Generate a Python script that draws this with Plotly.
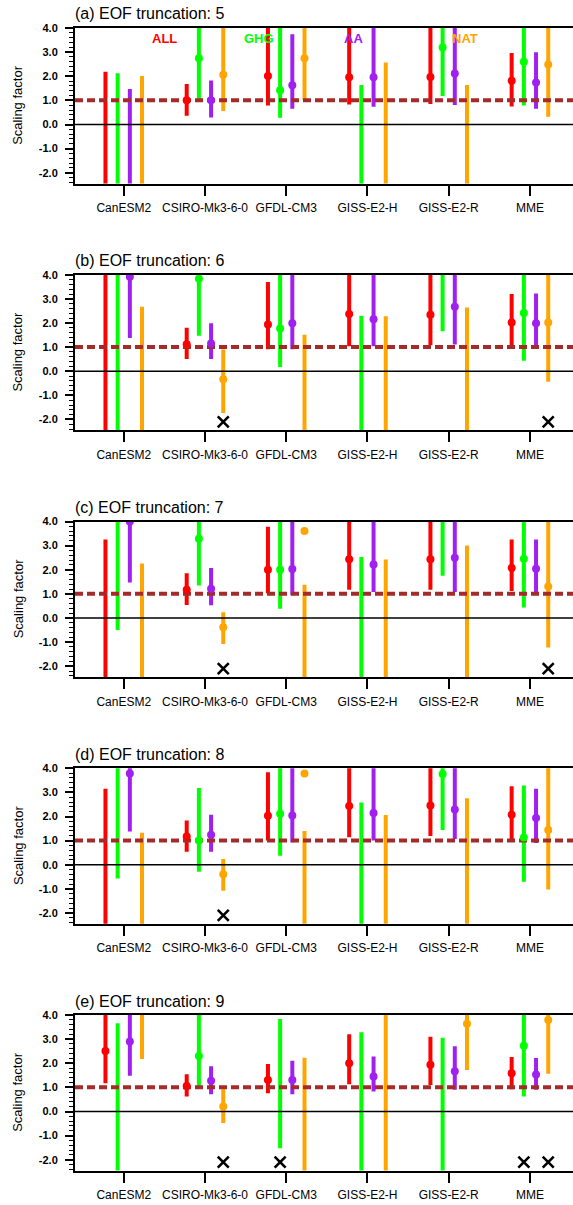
import plotly.graph_objects as go
from plotly.subplots import make_subplots

models = ["CanESM2", "CSIRO-Mk3-6-0", "GFDL-CM3", "GISS-E2-H", "GISS-E2-R", "MME"]
forcings = ["ALL", "GHG", "AA", "NAT"]
colors = ["#FF0000", "#00FF00", "#A020F0", "#FFA500"]
offsets = [-0.225, -0.075, 0.075, 0.225]
titles = ["(a) EOF truncation: 5", "(b) EOF truncation: 6", "(c) EOF truncation: 7",
          "(d) EOF truncation: 8", "(e) EOF truncation: 9"]
ytick_vals = [-2, -1, 0, 1, 2, 3, 4]
legend_x = [0.505, 1.67, 2.83, 4.205]
legend_y = 3.58

# rows: ALL, GHG, AA, NAT ; columns: models ; None = best estimate off the axis
best_a = [[None, 1.01, 2.01, 1.96, 1.97, 1.81],
          [None, 2.75, 1.42, None, 3.19, 2.60],
          [None, 1.01, 1.63, 1.96, 2.11, 1.74],
          [None, 2.06, 2.75, None, None, 2.49]]
lo_a = [[-5, 0.36, 0.79, 0.83, 0.85, 0.75],
        [-5, 1.06, 0.28, -5, 1.18, 0.79],
        [-5, 0.29, 0.65, 0.74, 0.81, 0.65],
        [-5, 0.56, 1.01, -5, -5, 0.32]]
hi_a = [[2.19, 1.68, 5, 5, 5, 2.96],
        [2.12, 5, 5, 1.64, 5, 5],
        [1.47, 1.82, 3.74, 5, 5, 2.99],
        [2.01, 5, 5, 2.57, 1.64, 5]]

best_b = [[None, 1.12, 1.94, 2.37, 2.34, 2.02],
          [None, 3.83, 1.77, None, None, 2.41],
          [3.92, 1.15, 1.99, 2.16, 2.67, 1.99],
          [None, -0.33, None, None, None, 2.02]]
lo_b = [[-5, 0.51, 0.91, 1.04, 1.08, 1.01],
        [-5, 1.47, 0.18, -5, 1.66, 0.44],
        [1.38, 0.51, 0.91, 1.04, 1.11, 0.93],
        [-5, -1.73, -5, -5, -5, -0.44]]
hi_b = [[5, 1.80, 3.70, 5, 5, 3.20],
        [5, 5, 5, 2.30, 5, 5],
        [5, 1.99, 5, 5, 5, 3.22],
        [2.67, 0.90, 1.51, 2.28, 2.64, 5]]

best_c = [[None, 1.17, 2.0, 2.44, 2.44, 2.07],
          [None, 3.29, 2.0, None, None, 2.46],
          [4.0, 1.21, 2.03, 2.22, 2.5, 2.04],
          [None, -0.38, 3.61, None, None, 1.31]]
lo_c = [[-5, 0.54, 1.03, 1.17, 1.17, 1.12],
        [-0.5, 1.35, 0.38, -5, 1.75, 0.44],
        [1.47, 0.53, 0.94, 1.08, 1.08, 1.08],
        [-5, -1.08, -5, -5, -5, -1.22]]
hi_c = [[3.25, 1.85, 3.78, 5, 5, 3.25],
        [5, 5, 5, 2.53, 5, 5],
        [5, 2.07, 5, 5, 5, 3.25],
        [2.26, 0.24, 1.375, 2.42, 3.0, 5]]

best_d = [[None, 1.17, 2.03, 2.44, 2.46, 2.07],
          [None, 1.0, 2.11, None, 3.76, 1.125],
          [3.78, 1.24, 2.04, 2.14, 2.29, 1.94],
          [None, -0.39, 3.78, None, None, 1.44]]
lo_d = [[-5, 0.54, 1.0, 1.14, 1.19, 1.07],
        [-0.57, -0.29, 0.375, -5, 1.44, -0.71],
        [1.375, 0.54, 0.93, 1.01, 1.07, 0.90],
        [-5, -1.08, -5, -5, -5, -1.03]]
hi_d = [[3.15, 1.83, 3.83, 5, 5, 3.25],
        [5, 3.18, 5, 2.58, 5, 3.29],
        [5, 2.07, 5, 5, 5, 3.15],
        [1.33, 0.24, 1.40, 2.06, 2.76, 5]]

best_e = [[2.51, 1.06, 1.31, 2.0, 1.94, 1.59],
          [None, 2.30, None, None, None, 2.73],
          [2.90, 1.27, 1.31, 1.45, 1.67, 1.53],
          [None, 0.21, None, None, 3.64, 3.79]]
lo_e = [[1.17, 0.62, 0.76, 1.13, 1.10, 0.92],
        [-5, 1.01, -1.52, -5, -5, 0.62],
        [1.48, 0.72, 0.72, 0.83, 0.90, 0.90],
        [2.18, -0.48, -5, -5, 1.72, 1.56]]
hi_e = [[5, 1.54, 1.97, 3.2, 3.10, 2.26],
        [3.66, 5, 3.83, 3.28, 3.06, 5],
        [5, 1.88, 2.10, 2.28, 2.70, 2.22],
        [5, 0.92, 2.23, 5, 5, 5]]

# crosses: (model index, forcing index) per panel
cross_a = []
cross_b = [(1, 3), (5, 3)]
cross_c = [(1, 3), (5, 3)]
cross_d = [(1, 3)]
cross_e = [(1, 3), (2, 1), (5, 1), (5, 3)]
cross_y = -2.1

panels = [(best_a, lo_a, hi_a, cross_a), (best_b, lo_b, hi_b, cross_b),
          (best_c, lo_c, hi_c, cross_c), (best_d, lo_d, hi_d, cross_d),
          (best_e, lo_e, hi_e, cross_e)]

xr = [-0.6, 5.53]
yr = [-2.45, 4.0]
W, H = 573, 1205
FONT = "Liberation Sans, Arial, Helvetica, sans-serif"

fig = make_subplots(rows=5, cols=1)

top0, step, ph = 28.0, 246.75, 155.6
left_px = 75.0

for p, (best, lo, hi, crosses) in enumerate(panels):
    r = p + 1
    # bars
    for f in range(4):
        xs, ys = [], []
        for m in range(6):
            xs += [m + offsets[f], m + offsets[f], None]
            ys += [lo[f][m], hi[f][m], None]
        fig.add_trace(go.Scatter(x=xs, y=ys, mode="lines",
                                 line=dict(color=colors[f], width=4),
                                 hoverinfo="skip", showlegend=False), row=r, col=1)
    # reference lines
    fig.add_trace(go.Scatter(x=xr, y=[0, 0], mode="lines",
                             line=dict(color="black", width=1.6),
                             hoverinfo="skip", showlegend=False), row=r, col=1)
    fig.add_trace(go.Scatter(x=xr, y=[1, 1], mode="lines",
                             line=dict(color="#A52A2A", width=4, dash="8px,4px"),
                             hoverinfo="skip", showlegend=False), row=r, col=1)
    # best estimates
    for f in range(4):
        xs = [m + offsets[f] for m in range(6)]
        fig.add_trace(go.Scatter(x=xs, y=best[f], mode="markers",
                                 marker=dict(color=colors[f], size=8),
                                 hoverinfo="skip", showlegend=False), row=r, col=1)
    # crosses
    if crosses:
        fig.add_trace(go.Scatter(x=[m + offsets[f] for m, f in crosses],
                                 y=[cross_y] * len(crosses), mode="markers",
                                 marker=dict(symbol="x-thin", size=11,
                                             line=dict(color="black", width=2.6)),
                                 hoverinfo="skip", showlegend=False), row=r, col=1)

    top = top0 + step * p
    bot = top + ph
    xa = "xaxis" if r == 1 else f"xaxis{r}"
    ya = "yaxis" if r == 1 else f"yaxis{r}"
    fig.layout[xa].update(domain=[left_px / W, 1.0], range=xr, automargin=False,
                          tickvals=list(range(6)), ticktext=models,
                          ticks="outside", ticklen=10, tickwidth=2, tickcolor="black",
                          showline=True, linewidth=2, linecolor="black", mirror=True,
                          showgrid=False, zeroline=False,
                          tickfont=dict(family=FONT, size=12, color="black"),
                          ticklabelstandoff=2)
    fig.layout[ya].update(domain=[1 - bot / H, 1 - top / H], range=yr, automargin=False,
                          tickvals=ytick_vals,
                          ticktext=[f"{v:.1f}" for v in ytick_vals],
                          ticks="outside", ticklen=8, tickwidth=1.5, tickcolor="black",
                          minor=dict(dtick=0.2, ticks="outside", ticklen=4,
                                     tickwidth=1, tickcolor="black"),
                          showline=True, linewidth=2, linecolor="black", mirror=False,
                          showgrid=False, zeroline=False,
                          tickfont=dict(family=FONT, size=11, color="black", weight="bold"),
                          ticklabelstandoff=5)
    fig.add_annotation(text=titles[p], xref="paper", yref="paper",
                       x=73 / W, y=1 - (top - 14) / H, xanchor="left", yanchor="middle",
                       showarrow=False, font=dict(family=FONT, size=16, color="black"))
    fig.add_annotation(text="Scaling factor", xref="paper", yref="paper",
                       x=18 / W, y=1 - (top + ph / 2) / H, xanchor="center", yanchor="middle",
                       textangle=-90, showarrow=False,
                       font=dict(family=FONT, size=13, color="black"))
    if p == 0:
        for f in range(4):
            fig.add_annotation(text=f"<b>{forcings[f]}</b>", xref="x", yref="y",
                               x=legend_x[f], y=legend_y, showarrow=False,
                               font=dict(family=FONT, size=13, color=colors[f]))

fig.update_layout(width=W, height=H,
                  margin=dict(l=0, r=0, t=0, b=0, pad=0, autoexpand=False),
                  plot_bgcolor="white", paper_bgcolor="white", showlegend=False)

fig.write_html("out.html", config={"displayModeBar": False},
               post_script="document.body.style.margin='0px';document.body.style.overflow='hidden';")
